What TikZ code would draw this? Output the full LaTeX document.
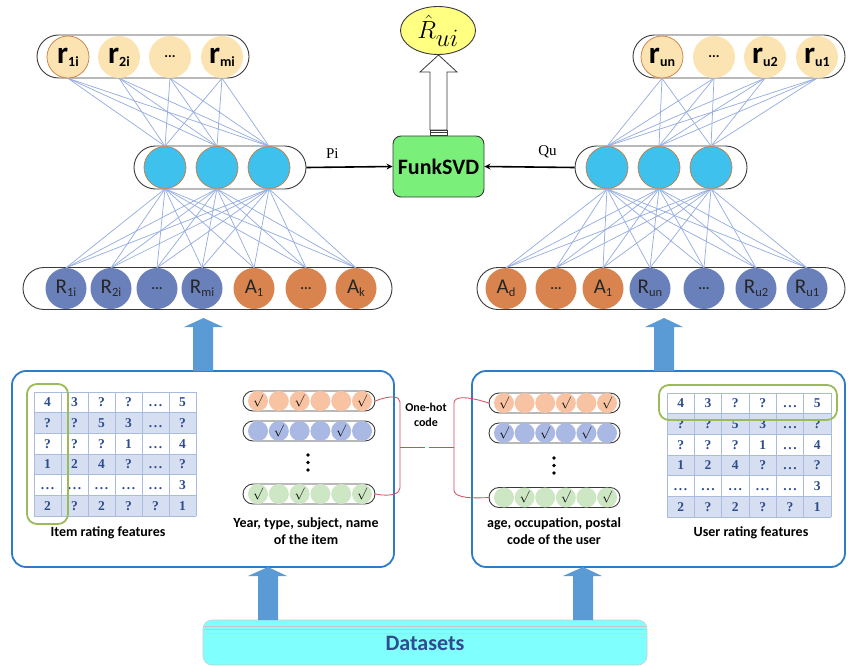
\documentclass[tikz,border=0pt]{standalone}
\usepackage{fontspec}
\setmainfont{Carlito}
\newfontfamily\numfont{Liberation Serif}
\usetikzlibrary{shapes.geometric,arrows.meta}

\definecolor{capline}{HTML}{3A3A3A}
\definecolor{outyel}{HTML}{FCE4B2}
\definecolor{outring}{HTML}{C97A3E}
\definecolor{hidblue}{HTML}{3FC1EE}
\definecolor{inblue}{HTML}{6A80BA}
\definecolor{inorange}{HTML}{D9844F}
\definecolor{link}{HTML}{98AEE0}
\definecolor{funkgreen}{HTML}{7AF07A}
\definecolor{predyel}{HTML}{FFFF82}
\definecolor{frameblue}{HTML}{2F7CC6}
\definecolor{flowblue}{HTML}{5B9BD5}
\definecolor{cellfill}{HTML}{D6DFF1}
\definecolor{cellgrid}{HTML}{AABBE0}
\definecolor{celltext}{HTML}{2E4C8C}
\definecolor{ringgreen}{HTML}{9BBB59}
\definecolor{hotorange}{HTML}{F8C3A3}
\definecolor{hotblue}{HTML}{A9B9E3}
\definecolor{hotgreen}{HTML}{CDE6C3}
\definecolor{bracered}{HTML}{D8475A}
\definecolor{datacyan}{HTML}{80FFFF}
\definecolor{datatext}{HTML}{2E4C8E}

% label helpers
\newcommand{\outlbl}[2]{{\fontsize{31}{31}\selectfont\bfseries #1}\raisebox{-3pt}{\fontsize{14}{14}\selectfont\bfseries #2}}
\newcommand{\inlbl}[2]{{\fontsize{21}{21}\selectfont #1}\raisebox{-3pt}{\fontsize{12.5}{12.5}\selectfont #2}}
\newcommand{\celldots}{\raisebox{-2pt}{\fontsize{14}{14}\selectfont\bfseries ...}}
\newcommand{\lowdots}{.\kern0.12em.\kern0.12em.}

\tikzset{
  capsule/.style={draw=capline, line width=0.9pt, inner sep=0pt},
  outc/.style={circle, fill=outyel, minimum size=42pt, inner sep=0pt, text=black},
  hidc/.style={circle, fill=hidblue, draw=outring, line width=0.7pt, minimum size=42pt, inner sep=0pt},
  inb/.style={circle, fill=inblue, minimum size=41pt, inner sep=0pt, text=black!85},
  ino/.style={circle, fill=inorange, minimum size=41pt, inner sep=0pt, text=black!85},
  wire/.style={draw=link, line width=0.75pt},
  feed/.style={line width=1.6pt, -{Stealth[length=6pt,width=6pt]}},
  bluearrow/.style={fill=flowblue, draw=none},
  panel/.style={draw=frameblue, line width=1.8pt, rounded corners=14pt},
  cell/.style={inner sep=0pt, text=celltext, font=\numfont\bfseries\fontsize{13.5}{13.5}\selectfont},
  ring/.style={draw=ringgreen, line width=1.8pt, rounded corners=10pt},
  hotcap/.style={draw=capline, line width=0.9pt, rounded corners=10pt, inner sep=0pt, minimum height=20pt},
  hotc/.style={circle, minimum size=20pt, inner sep=0pt, font=\fontsize{12}{12}\selectfont},
  caption/.style={font=\bfseries\fontsize{14}{17}\selectfont, align=center, inner sep=0pt},
  vdot/.style={circle, fill=black, inner sep=0pt, minimum size=3.6pt},
  brace/.style={draw=bracered, line width=0.8pt},
}

\begin{document}
\begin{tikzpicture}[x=1pt,y=-1pt]
\useasboundingbox (0,0) rectangle (848,666);

% ---------- item tower ----------
\node[capsule, minimum width=212pt, minimum height=43pt, rounded corners=21.5pt] (capTL) at (143,56.5) {};
\node[outc, draw=outring, line width=0.7pt] (tl1) at (68,57) {\outlbl{r}{1i}};
\node[outc] (tl2) at (119,57) {\outlbl{r}{2i}};
\node[outc] (tl3) at (170,57) {\celldots};
\node[outc] (tl4) at (222,57) {\outlbl{r}{mi}};

\node[capsule, minimum width=172pt, minimum height=43pt, rounded corners=21.5pt] (capML) at (220,167.5) {};
\node[hidc] (ml1) at (165,167.5) {};
\node[hidc] (ml2) at (217,167.5) {};
\node[hidc] (ml3) at (269,167.5) {};

\node[capsule, minimum width=369pt, minimum height=42pt, rounded corners=21pt] (capBL) at (207.5,288.5) {};
\node[inb] (bl1) at (66,288.5) {\inlbl{R}{1i}};
\node[inb] (bl2) at (111,288.5) {\inlbl{R}{2i}};
\node[inb] (bl3) at (157,288.5) {\celldots};
\node[inb] (bl4) at (202,288.5) {\inlbl{R}{mi}};
\node[ino] (bl5) at (254,288.5) {\inlbl{A}{1}};
\node[ino] (bl6) at (306,288.5) {\celldots};
\node[ino] (bl7) at (356,288.5) {\inlbl{A}{k}};

\foreach \t in {1,...,4}
  \foreach \m in {1,2,3}
    \draw[wire] (tl\t.south) -- (ml\m.north);
\foreach \b in {1,...,7}
  \foreach \m in {1,2,3}
    \draw[wire] (bl\b.north) -- (ml\m.south);

% ---------- user tower ----------
\node[capsule, minimum width=212pt, minimum height=43pt, rounded corners=21.5pt] (capTR) at (739,56.5) {};
\node[outc, draw=outring, line width=0.7pt] (tr1) at (662,57) {\outlbl{r}{un}};
\node[outc] (tr2) at (714,57) {\celldots};
\node[outc] (tr3) at (765,57) {\outlbl{r}{u2}};
\node[outc] (tr4) at (817,57) {\outlbl{r}{u1}};

\node[capsule, minimum width=172pt, minimum height=43pt, rounded corners=21.5pt] (capMR) at (661,167.5) {};
\node[hidc] (mr1) at (607,167.5) {};
\node[hidc] (mr2) at (659,167.5) {};
\node[hidc] (mr3) at (711,167.5) {};

\node[capsule, minimum width=368pt, minimum height=42pt, rounded corners=21pt] (capBR) at (661,288.5) {};
\node[ino] (br1) at (506,288.5) {\inlbl{A}{d}};
\node[ino] (br2) at (556,288.5) {\celldots};
\node[ino] (br3) at (603,288.5) {\inlbl{A}{1}};
\node[inb] (br4) at (650,288.5) {\inlbl{R}{un}};
\node[inb] (br5) at (704,288.5) {\celldots};
\node[inb] (br6) at (756,288.5) {\inlbl{R}{u2}};
\node[inb] (br7) at (807,288.5) {\inlbl{R}{u1}};

\foreach \t in {1,...,4}
  \foreach \m in {1,2,3}
    \draw[wire] (tr\t.south) -- (mr\m.north);
\foreach \b in {1,...,7}
  \foreach \m in {1,2,3}
    \draw[wire] (br\b.north) -- (mr\m.south);

% ---------- FunkSVD and prediction ----------
\node[draw=capline, line width=0.9pt, fill=funkgreen, rounded corners=8pt,
      minimum width=91pt, minimum height=61pt, inner sep=0pt,
      font=\bfseries\fontsize{22}{22}\selectfont] (funk) at (438.5,166.5) {FunkSVD};
\node[ellipse, draw=capline, line width=0.9pt, fill=predyel, minimum width=75pt,
      minimum height=48pt, inner sep=0pt] (pred) at (438,30.5)
      {\fontsize{34}{34}\selectfont$\hat{R}_{ui}$};

\draw[feed] (capML.east) -- node[above=5pt, pos=0.3, font=\numfont\fontsize{15}{15}\selectfont] {Pi} (funk.west);
\draw[feed] (capMR.west) -- node[above=5pt, pos=0.3, font=\numfont\fontsize{15}{15}\selectfont] {Qu} (funk.east);

% hollow output arrow
\draw[capline, line width=0.8pt, fill=white]
  (430,130) -- (430,72) -- (420,72) -- (438.5,55) -- (457,72) -- (447,72) -- (447,130) -- cycle;
\draw[capline, line width=0.8pt, fill=white] (430,130) rectangle (447,135.5);
\draw[capline, line width=0.6pt] (430,132.7) -- (447,132.7);

% ---------- input panels ----------
\node[panel, minimum width=382pt, minimum height=196pt, inner sep=0pt] (panL) at (203,469) {};
\node[panel, minimum width=373pt, minimum height=196pt, inner sep=0pt] (panR) at (658.5,469) {};

% feed arrows into the towers
\fill[bluearrow] (193,371) -- (193,327) -- (184,327) -- (203.5,318) -- (223,327) -- (213,327) -- (213,371) -- cycle;
\fill[bluearrow] (654,371) -- (654,327) -- (645,327) -- (664,318) -- (683,327) -- (674,327) -- (674,371) -- cycle;

% rating tables
\foreach \side/\xo/\yo/\cw in {L/34/392/27, R/667/393/27.33} {
  \foreach \r in {2,4,6}
    \fill[cellfill] (\xo, {\yo+(\r-1)*20.67}) rectangle ({\xo+6*\cw}, {\yo+\r*20.67});
  \foreach \c in {0,...,6}
    \draw[cellgrid, line width=0.8pt] ({\xo+\c*\cw}, \yo) -- ({\xo+\c*\cw}, {\yo+124});
  \foreach \r in {0,...,6}
    \draw[cellgrid, line width=0.8pt] (\xo, {\yo+\r*20.67}) -- ({\xo+6*\cw}, {\yo+\r*20.67});
  \foreach \row [count=\r] in {{4,3,?,?,\lowdots,5},{?,?,5,3,\lowdots,?},{?,?,?,1,\lowdots,4},{1,2,4,?,\lowdots,?},{\lowdots,\lowdots,\lowdots,\lowdots,\lowdots,3},{2,?,2,?,?,1}}
    \foreach \v [count=\c] in \row
      \node[cell, text height=9pt, text depth=0pt] (\side-\r-\c) at ({\xo+(\c-0.5)*\cw}, {\yo+(\r-0.5)*20.67}) {\v};
}
\draw[ring] (27,384) rectangle (68,524);
\draw[ring] (659,385) rectangle (837,420);

\node[caption] (capItem) at (108,533) {Item rating features};
\node[caption] (capUser) at (751,533) {User rating features};

% one-hot vectors, item side
\foreach \name/\yy/\col/\ticks in {ia/401/hotorange/{1,3,6}, ib/431/hotblue/{2,5}, ic/494/hotgreen/{1,3,6}} {
  \node[hotcap, minimum width=132pt] (\name) at (309,\yy) {};
  \foreach \k in {1,...,6}
    \node[hotc, fill=\col] (\name-\k) at ({258+(\k-1)*20.8}, \yy) {};
  \foreach \k in \ticks
    \node[hotc] at (\name-\k) {$\surd$};
}
\foreach \d/\yy in {1/455, 2/462.5, 3/470}
  \node[vdot] (idot\d) at (308,\yy) {};
\node[caption] (capIF) at (306,531) {Year, type, subject, name\\of the item};

% one-hot vectors, user side
\foreach \name/\yy/\col/\ticks in {ua/403/hotorange/{1,4,6}, ub/433/hotblue/{1,3,5}, uc/497.5/hotgreen/{2,4,6}} {
  \node[hotcap, minimum width=131pt] (\name) at (554.5,\yy) {};
  \foreach \k in {1,...,6}
    \node[hotc, fill=\col] (\name-\k) at ({504+(\k-1)*20.6}, \yy) {};
  \foreach \k in \ticks
    \node[hotc] at (\name-\k) {$\surd$};
}
\foreach \d/\yy in {1/458, 2/465.5, 3/473}
  \node[vdot] (udot\d) at (554,\yy) {};
\node[caption] (capUF) at (554,531) {age, occupation, postal\\code of the user};

% one-hot brackets
\coordinate (lbL) at (400,447);
\coordinate (lbR) at (454,447);
\draw[brace] (ia.east) .. controls (390,395) and (400,396) .. (400,402) -- (400,488)
  .. controls (400,494) and (390,497) .. (ic.east);
\draw[brace] (lbL) -- (425,447);
\draw[brace] (429,447) -- (lbR);
\draw[brace] (ua.west) .. controls (464,395) and (454,397) .. (454,403) -- (454,490)
  .. controls (454,496) and (464,499) .. (uc.west);
\node[font=\bfseries\fontsize{12}{14.5}\selectfont, align=center, inner sep=0pt] (onehot) at (426,415) {One-hot\\code};

% ---------- datasets ----------
\node[fill=datacyan, draw=black!20, line width=0.6pt, rounded corners=9pt, minimum width=444pt,
      minimum height=45pt, inner sep=0pt] (data) at (425,642.5) {};
\draw[black!22, line width=0.5pt] (203,626) -- (647,626);
\draw[black!22, line width=0.5pt] (204,629.5) -- (646,629.5);
\draw[black!18, line width=0.5pt] (206,633) -- (644,633);
\node[text=datatext, font=\bfseries\fontsize{22}{22}\selectfont] (dlabel) at (425,643) {Datasets};

\fill[bluearrow] (258,620) -- (258,576) -- (248,576) -- (268,567) -- (287,576) -- (278,576) -- (278,620) -- cycle;
\fill[bluearrow] (573,620) -- (573,576) -- (563,576) -- (583,567) -- (602,576) -- (593,576) -- (593,620) -- cycle;

\end{tikzpicture}
\end{document}
